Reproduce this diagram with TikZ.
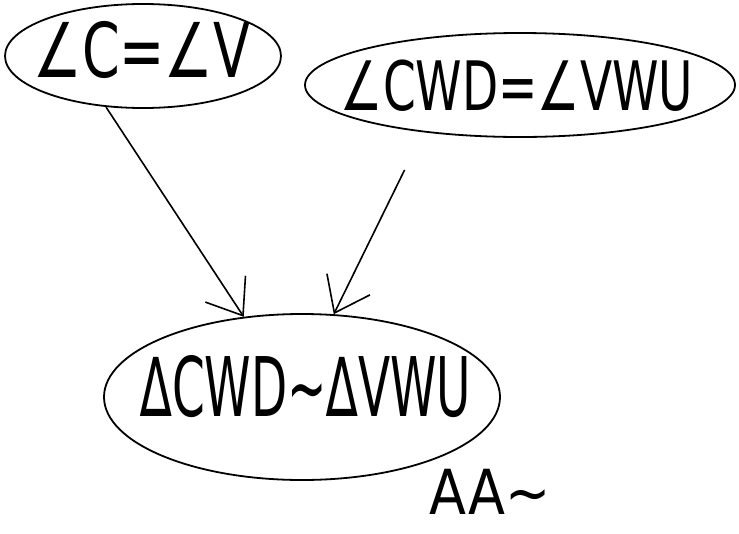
\documentclass[tikz,border=0pt]{standalone}
\usepackage{fontspec}
\setmainfont{DejaVu Sans}
\usetikzlibrary{shapes.geometric,arrows.meta}
\tikzset{
  oval/.style={draw, ellipse, line width=1.8pt, inner sep=0pt},
  lbl/.style={inner sep=0pt},
  arr/.style={line width=1.6pt, -{Straight Barb[length=32pt,width=48pt,line width=1.6pt]}},
  big/.style={font=\fontsize{54}{56}\selectfont},
  mid/.style={font=\fontsize{47}{50}\selectfont}
}
\begin{document}
\begin{tikzpicture}[x=1pt,y=-1pt]
\useasboundingbox (0,0) rectangle (739,533);
\node[oval, minimum width=276pt, minimum height=104pt] (n1) at (143,56) {};
\node[oval, minimum width=430pt, minimum height=104pt] (n2) at (520,85) {};
\node[oval, minimum width=396pt, minimum height=166pt] (n3) at (302,397) {};
\node[lbl, big] (t1) at (142,50) {\scalebox{1}[1.4]{∠C=∠V}};
\node[lbl, mid] (t2) at (517,86) {\scalebox{1}[1.45]{∠CWD=∠VWU}};
\node[lbl, mid] (t3) at (306,387) {\scalebox{1}[1.75]{∆CWD∼∆VWU}};
\node[lbl, font=\fontsize{54}{56}\selectfont] (aa) at (490,492) {\scalebox{1}[1.15]{AA∼}};
\draw[arr] (n1.234) -- (n3.126);
\draw[arr, shorten <=42pt] (n2.206) -- (n3.69);
\end{tikzpicture}
\end{document}
